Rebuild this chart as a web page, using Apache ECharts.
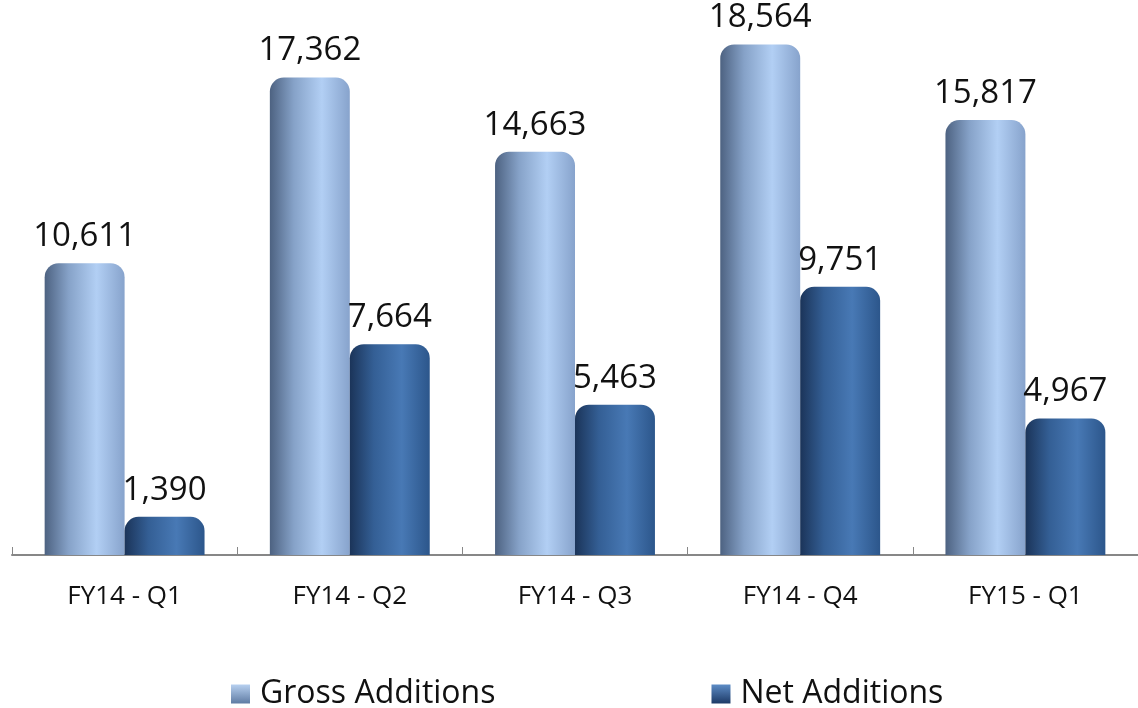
<!DOCTYPE html>
<html>
<head>
	<meta charset="utf-8">
	<title>Additions</title>
	<script src="https://cdn.jsdelivr.net/npm/echarts@6/dist/echarts.min.js"></script>
	<style>
		html, body { margin:0; padding:0; background:#fff; }
		#box { width:1138px; height:708px; }
	</style>
</head>
<body>
	<div id="box"></div>
</body>

<script type="text/javascript">
	var categories = ['FY14 - Q1', 'FY14 - Q2', 'FY14 - Q3', 'FY14 - Q4', 'FY15 - Q1'];
	var gross_additions = [10611, 17362, 14663, 18564, 15817];
	var net_additions = [1390, 7664, 5463, 9751, 4967];

	var font = '"Open Sans", sans-serif';

	//cylinder look, dark edge -> highlight -> edge
	function barColor(c0, c1, c2, c3){
		return new echarts.graphic.LinearGradient(0, 0, 1, 0, [
			{offset: 0, color: c0},
			{offset: 0.3, color: c1},
			{offset: 0.65, color: c2},
			{offset: 1, color: c3}
		]);
	}

	//legend squares, light top to dark bottom
	function iconColor(c0, c1){
		return new echarts.graphic.LinearGradient(0, 0, 0, 1, [
			{offset: 0, color: c0},
			{offset: 1, color: c1}
		]);
	}

	var gross_color = barColor('#4d6281', '#86a2c8', '#b2cff4', '#87a3cc');
	var net_color = barColor('#1b3459', '#345f95', '#4879b5', '#2c568b');

	var label_style = {
		show: true,
		position: 'top',
		distance: 10,
		fontFamily: font,
		fontSize: 33,
		color: '#111',
		formatter: function(p){
			return p.value.toLocaleString('en-US');
		}
	};

	var option = {
		animation: false,
		grid: {
			left: 12,
			right: -4,
			top: 5,
			bottom: 153
		},
		legend: {
			left: 226,
			top: 673,
			itemWidth: 19,
			itemHeight: 19,
			itemGap: 216,
			icon: 'rect',
			textStyle: {fontFamily: font, fontSize: 32, color: '#111', padding: [0, 0, 0, 5]},
			data: [
				{name: 'Gross Additions', itemStyle: {color: iconColor('#b7d0f0', '#5f7ba3')}},
				{name: 'Net Additions', itemStyle: {color: iconColor('#5d8cc6', '#1d3a66')}}
			]
		},
		xAxis: {
			type: 'category',
			data: categories,
			axisLine: {lineStyle: {color: '#878787', width: 2}},
			axisTick: {show: true, inside: true, length: 8, alignWithLabel: false, lineStyle: {color: '#878787', width: 1}},
			axisLabel: {margin: 29, fontFamily: font, fontSize: 26, color: '#111'}
		},
		yAxis: {
			type: 'value',
			min: 0,
			max: 20000,
			show: false,
			splitLine: {show: false}
		},
		series: [
			{
				name: 'Gross Additions',
				type: 'bar',
				data: gross_additions,
				barGap: 0,
				barCategoryGap: '29%',
				itemStyle: {color: gross_color, borderRadius: [14, 14, 0, 0]},
				label: label_style
			},
			{
				name: 'Net Additions',
				type: 'bar',
				data: net_additions,
				itemStyle: {color: net_color, borderRadius: [14, 14, 0, 0]},
				label: label_style
			}
		]
	};

	var myChart = echarts.init(document.getElementById('box'));
	myChart.setOption(option);
</script>
</html>
